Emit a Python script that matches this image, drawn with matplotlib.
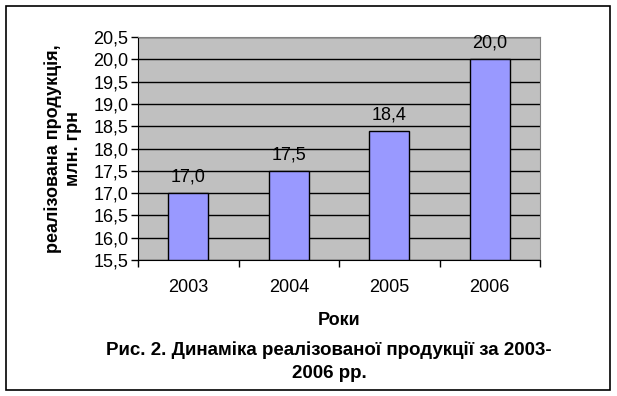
import matplotlib.pyplot as plt
import matplotlib.ticker as ticker
from matplotlib.patches import Rectangle

plt.rcParams['font.family'] = ['Liberation Sans', 'DejaVu Sans']

years = ['2003', '2004', '2005', '2006']
sales = [17.0, 17.5, 18.4, 20.0]
value_labels = ['17,0', '17,5', '18,4', '20,0']

W, H = 617, 396
fig = plt.figure(figsize=(W / 100, H / 100), dpi=100)

# outer frame of the chart
fig.patches.append(Rectangle((6 / W, 1 - 390 / H), 604 / W, 384 / H, transform=fig.transFigure,
                             fill=False, edgecolor='black', linewidth=1.2))

ax = fig.add_axes([138 / W, 1 - 260 / H, 402 / W, 223 / H])
ax.set_facecolor('#C0C0C0')

x = range(len(years))
ax.bar(x, [v - 15.5 for v in sales], bottom=15.5, width=0.4, color='#9999FF',
       edgecolor='black', linewidth=1, zorder=3)

for i, (v, lab) in enumerate(zip(sales, value_labels)):
    ax.annotate(lab, (i, v), xytext=(0, 5.5), textcoords='offset points',
                ha='center', va='bottom', fontsize=13, zorder=4)

ax.set_xlim(-0.5, 3.5)
ax.set_ylim(15.5, 20.5)
ax.yaxis.set_major_locator(ticker.MultipleLocator(0.5))
ax.yaxis.set_major_formatter(ticker.FuncFormatter(lambda v, p: f"{v:.1f}".replace('.', ',')))
ax.yaxis.grid(True, color='black', linewidth=1, zorder=1)

ax.set_xticks(list(x))
ax.set_xticklabels(years)
ax.xaxis.set_minor_locator(ticker.FixedLocator([-0.5, 0.5, 1.5, 2.5, 3.5]))
ax.tick_params(axis='x', which='major', length=0, pad=14, labelsize=13)
ax.tick_params(axis='x', which='minor', length=5, width=1, direction='out')
ax.tick_params(axis='y', length=5, width=1, direction='out', labelsize=13, pad=2)

for side in ['top', 'right']:
    ax.spines[side].set_color('#808080')
for side in ['left', 'bottom']:
    ax.spines[side].set_color('black')

ax.set_xlabel('Роки', fontsize=13, fontweight='bold', labelpad=11)
ax.set_ylabel('реалізована продукція,\nмлн. грн', fontsize=13, fontweight='bold', labelpad=8)

fig.text(329 / W, 1 - 362 / H, 'Рис. 2. Динаміка реалізованої продукції за 2003-\n2006 рр.',
         ha='center', va='center', fontsize=13.5, fontweight='bold', linespacing=1.45)

fig.savefig('out.png', dpi=100)
